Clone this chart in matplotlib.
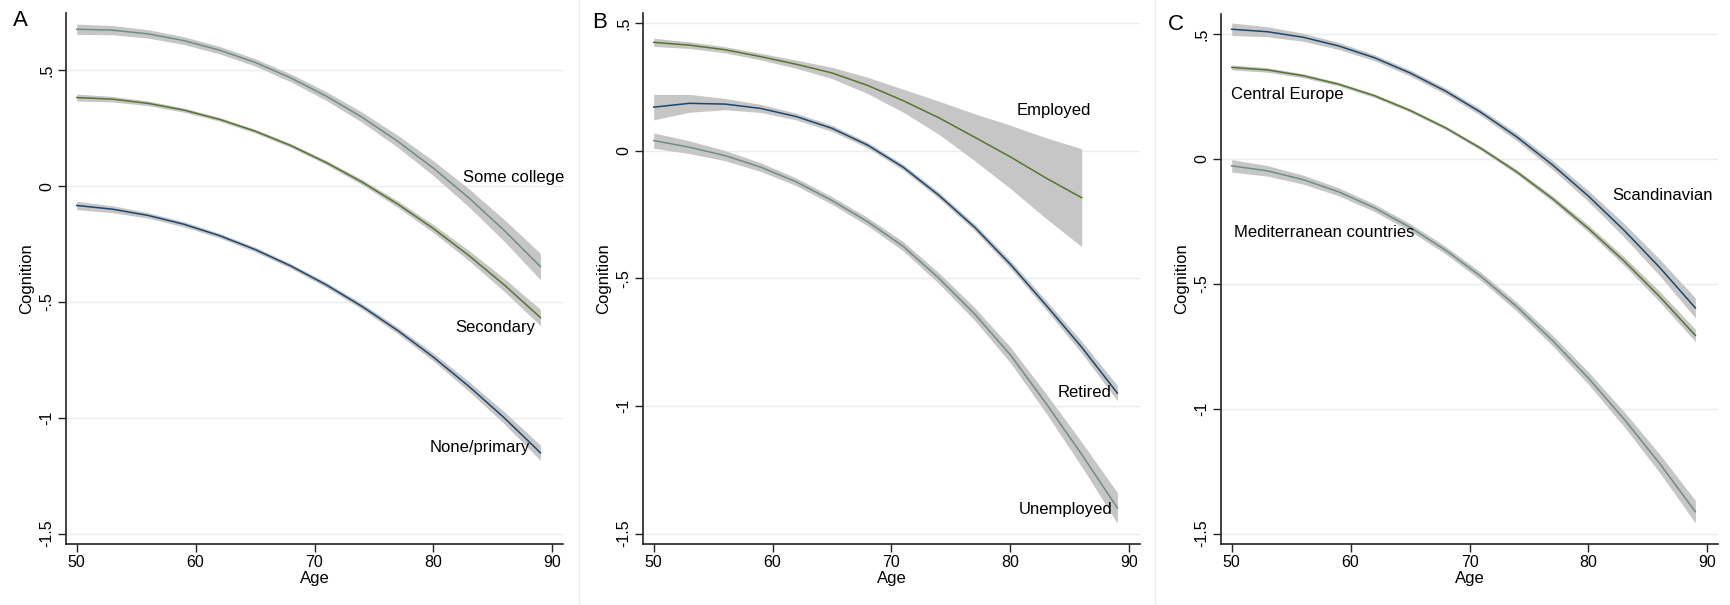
import matplotlib as mpl
mpl.use('Agg')
import matplotlib.pyplot as plt
from matplotlib.lines import Line2D

plt.rcParams['font.family'] = ['Liberation Sans', 'DejaVu Sans']

# predicted cognition by age, with 95% CI half widths
ages = [50, 53, 56, 59, 62, 65, 68, 71, 74, 77, 80, 83, 86, 89]
ages_emp = [50, 53, 56, 59, 62, 65, 68, 71, 74, 77, 80, 83, 86]

# A: education
college = [0.678, 0.674, 0.658, 0.629, 0.588, 0.535, 0.468, 0.389, 0.298, 0.194, 0.078, -0.051, -0.193, -0.347]
college_ci = [0.022, 0.020, 0.018, 0.017, 0.016, 0.016, 0.017, 0.019, 0.022, 0.026, 0.032, 0.039, 0.047, 0.057]
secondary = [0.383, 0.376, 0.358, 0.329, 0.289, 0.238, 0.176, 0.102, 0.018, -0.077, -0.183, -0.300, -0.428, -0.567]
secondary_ci = [0.015, 0.012, 0.010, 0.009, 0.008, 0.008, 0.008, 0.009, 0.011, 0.014, 0.017, 0.022, 0.028, 0.035]
primary = [-0.083, -0.099, -0.126, -0.164, -0.213, -0.273, -0.344, -0.426, -0.519, -0.623, -0.738, -0.865, -1.002, -1.151]
primary_ci = [0.018, 0.015, 0.012, 0.011, 0.010, 0.010, 0.010, 0.011, 0.012, 0.014, 0.017, 0.021, 0.026, 0.033]

# B: labour market status
employed = [0.425, 0.414, 0.396, 0.369, 0.339, 0.305, 0.256, 0.196, 0.129, 0.053, -0.024, -0.107, -0.184]
employed_ci = [0.016, 0.013, 0.012, 0.013, 0.016, 0.022, 0.032, 0.045, 0.065, 0.092, 0.124, 0.158, 0.192]
retired = [0.171, 0.186, 0.183, 0.166, 0.134, 0.088, 0.022, -0.065, -0.175, -0.300, -0.445, -0.605, -0.770, -0.950]
retired_ci = [0.050, 0.035, 0.022, 0.016, 0.013, 0.012, 0.011, 0.011, 0.012, 0.013, 0.015, 0.018, 0.023, 0.030]
unemployed = [0.040, 0.014, -0.019, -0.064, -0.122, -0.195, -0.278, -0.375, -0.500, -0.640, -0.800, -0.990, -1.190, -1.400]
unemployed_ci = [0.030, 0.025, 0.020, 0.017, 0.015, 0.015, 0.016, 0.018, 0.021, 0.025, 0.031, 0.038, 0.048, 0.060]

# C: region
scand = [0.519, 0.509, 0.487, 0.452, 0.405, 0.344, 0.271, 0.185, 0.087, -0.025, -0.149, -0.286, -0.435, -0.597]
scand_ci = [0.025, 0.020, 0.016, 0.014, 0.012, 0.012, 0.012, 0.013, 0.015, 0.018, 0.022, 0.027, 0.033, 0.040]
central = [0.366, 0.356, 0.333, 0.299, 0.253, 0.194, 0.124, 0.041, -0.053, -0.160, -0.279, -0.409, -0.552, -0.707]
central_ci = [0.010, 0.009, 0.008, 0.007, 0.007, 0.007, 0.007, 0.008, 0.009, 0.011, 0.014, 0.017, 0.021, 0.025]
medit = [-0.028, -0.048, -0.083, -0.132, -0.196, -0.274, -0.366, -0.472, -0.593, -0.728, -0.878, -1.042, -1.220, -1.413]
medit_ci = [0.025, 0.021, 0.018, 0.016, 0.015, 0.015, 0.015, 0.016, 0.018, 0.021, 0.025, 0.030, 0.037, 0.045]

yticks = [0.5, 0, -0.5, -1, -1.5]
ytick_labels = ['.5', '0', '-.5', '-1', '-1.5']
xticks = [50, 60, 70, 80, 90]

navy = '#1a476f'
green = '#55752f'
teal = '#6e8e84'
band = '#c6c6c6'
grid = '#e6eef1'

W, H = 1731, 605
fig = plt.figure(figsize=(W / 100, H / 100), dpi=100)

def setup(left, ylim):
    ax = fig.add_axes([left / W, (H - 544) / H, 497 / W, 530.5 / H])
    ax.set_xlim(49.1, 90.9)
    ax.set_ylim(*ylim)
    for s in ('top', 'right'):
        ax.spines[s].set_visible(False)
    for s in ('left', 'bottom'):
        ax.spines[s].set_linewidth(1.2)
        ax.spines[s].set_color('#222222')
    ax.set_yticks(yticks)
    ax.set_yticklabels(ytick_labels, rotation=90, va='center')
    ax.set_xticks(xticks)
    ax.tick_params(axis='both', length=5.5, width=1.0, color='#222222', labelsize=11.5)
    ax.tick_params(axis='y', pad=3)
    ax.tick_params(axis='x', pad=2.5)
    for y in yticks:
        ax.axhline(y, color=grid, lw=1.0, zorder=0)
    ax.set_xlabel('Age', fontsize=12, labelpad=1)
    ax.set_ylabel('Cognition', fontsize=12, labelpad=4)
    return ax

def curve(ax, x, y, ci, color):
    lo = [v - c for v, c in zip(y, ci)]
    hi = [v + c for v, c in zip(y, ci)]
    ax.fill_between(x, lo, hi, color=band, lw=0, zorder=1)
    ax.plot(x, y, color=color, lw=1.1, zorder=2)

axA = setup(66, (-1.545, 0.746))
curve(axA, ages, college, college_ci, teal)
curve(axA, ages, secondary, secondary_ci, green)
curve(axA, ages, primary, primary_ci, navy)
axA.text(91.0, 0.036, 'Some college', ha='right', va='center', fontsize=12, clip_on=False)
axA.text(88.6, -0.612, 'Secondary', ha='right', va='center', fontsize=12)
axA.text(88.1, -1.13, 'None/primary', ha='right', va='center', fontsize=12)

axB = setup(643, (-1.541, 0.538))
curve(axB, ages_emp, employed, employed_ci, green)
curve(axB, ages, retired, retired_ci, navy)
curve(axB, ages, unemployed, unemployed_ci, teal)
axB.text(86.8, 0.156, 'Employed', ha='right', va='center', fontsize=12)
axB.text(88.5, -0.947, 'Retired', ha='right', va='center', fontsize=12)
axB.text(88.6, -1.406, 'Unemployed', ha='right', va='center', fontsize=12)

axC = setup(1221, (-1.542, 0.582))
curve(axC, ages, scand, scand_ci, navy)
curve(axC, ages, central, central_ci, green)
curve(axC, ages, medit, medit_ci, teal)
axC.text(90.5, -0.148, 'Scandinavian', ha='right', va='center', fontsize=12, clip_on=False)
axC.text(49.95, 0.258, 'Central Europe', ha='left', va='center', fontsize=12)
axC.text(50.2, -0.295, 'Mediterranean countries', ha='left', va='center', fontsize=12)

# panel letters
for lbl, px, py in [('A', 20, 21), ('B', 600, 23), ('C', 1176, 24)]:
    fig.text(px / W, 1 - py / H, lbl, fontsize=16, ha='center', va='center')

# thin separators between the three panels
for px in (579, 1155):
    fig.add_artist(Line2D([px / W, px / W], [0, 1], color='#e9f0f4', lw=1))

fig.savefig('out.png', dpi=100, facecolor='white')
